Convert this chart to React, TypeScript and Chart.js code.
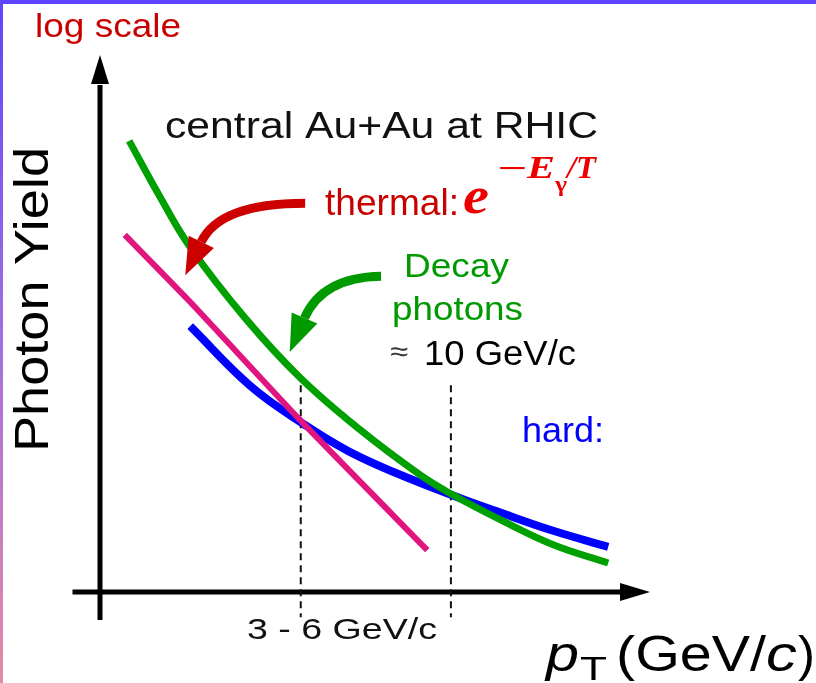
import React, { useEffect, useRef } from "react";
import { Chart, registerables } from "chart.js";

Chart.register(...registerables);

// Schematic direct-photon spectra, arbitrary units: x = pT, y = log(yield)
const decayPt = [0.53, 1.09, 1.64, 2.64, 3.64, 4.73, 5.82, 6.36, 7.33, 8.24, 9.24];
const decayLogYield = [8.4, 7.36, 6.42, 5.1, 3.99, 3.02, 2.18, 1.84, 1.32, 0.88, 0.54];
const hardPt = [1.64, 2.73, 3.64, 4.73, 6.36, 7.33, 8.24, 9.24];
const hardLogYield = [4.95, 3.84, 3.17, 2.51, 1.82, 1.46, 1.14, 0.84];
const thermalPt = [0.45, 1.64, 3.64, 5.95];
const thermalLogYield = [6.65, 5.4, 3.2, 0.78];

// Vertical markers: thermal/hard crossing and decay/hard crossing
const markerPt = [3.65, 6.38];
const markerTop = 3.85;
const markerBottom = -0.47;

// Axis extents (arrow tips at the max)
const axisMax = 10;
const xAxisStart = -0.5;
const yAxisStart = -0.52;

// Curved pointer arrows: tail, bend control, tip (data units)
const thermalPointer = { tail: [3.73, 7.24], ctrl: [2.18, 7.24], tip: [1.55, 5.9] };
const decayPointer = { tail: [5.11, 5.88], ctrl: [4.04, 5.86], tip: [3.45, 4.47] };

const SANS = '"Liberation Sans", Arial, Helvetica, sans-serif';
const SERIF = '"Liberation Serif", "Times New Roman", serif';

const toPts = (xs: number[], ys: number[]) => xs.map((x, i) => ({ x, y: ys[i] }));

function fitText(
  ctx: CanvasRenderingContext2D,
  text: string,
  x: number,
  y: number,
  font: string,
  color: string,
  width?: number
) {
  ctx.save();
  ctx.font = font;
  ctx.fillStyle = color;
  ctx.textAlign = "left";
  ctx.textBaseline = "alphabetic";
  const w = ctx.measureText(text).width;
  const sx = width ? width / w : 1;
  ctx.translate(x, y);
  ctx.scale(sx, 1);
  ctx.fillText(text, 0, 0);
  ctx.restore();
}

function solidArrow(
  ctx: CanvasRenderingContext2D,
  tip: [number, number],
  from: [number, number],
  headLen: number,
  headWidth: number
) {
  const dx = tip[0] - from[0];
  const dy = tip[1] - from[1];
  const len = Math.hypot(dx, dy);
  const ux = dx / len;
  const uy = dy / len;
  const bx = tip[0] - ux * headLen;
  const by = tip[1] - uy * headLen;
  const px = -uy * (headWidth / 2);
  const py = ux * (headWidth / 2);
  ctx.beginPath();
  ctx.moveTo(tip[0], tip[1]);
  ctx.lineTo(bx + px, by + py);
  ctx.lineTo(bx - px, by - py);
  ctx.closePath();
  ctx.fill();
  return [bx, by] as [number, number];
}

const framePlugin = {
  id: "frame",
  beforeDraw(chart: any) {
    const { ctx, width, height } = chart;
    ctx.save();
    ctx.fillStyle = "#ffffff";
    ctx.fillRect(0, 0, width, height);
    const g = ctx.createLinearGradient(0, 0, 0, height);
    g.addColorStop(0, "#5f44ff");
    g.addColorStop(0.5, "#a36fe0");
    g.addColorStop(1, "#e58aa6");
    ctx.fillStyle = g;
    ctx.fillRect(0, 0, 3, height);
    ctx.fillStyle = "#5f44ff";
    ctx.fillRect(0, 0, width, 4);
    ctx.restore();
  },
  beforeDatasetsDraw(chart: any) {
    const { ctx } = chart;
    const xs = chart.scales.x;
    const ys = chart.scales.y;
    const x0 = xs.getPixelForValue(0);
    const y0 = ys.getPixelForValue(0);
    ctx.save();
    ctx.strokeStyle = "#000";
    ctx.fillStyle = "#000";
    ctx.lineWidth = 5;
    // vertical axis
    const yTip: [number, number] = [x0, ys.getPixelForValue(axisMax)];
    const yBase = solidArrow(ctx, yTip, [x0, ys.getPixelForValue(yAxisStart)], 29, 18);
    ctx.beginPath();
    ctx.moveTo(x0, ys.getPixelForValue(yAxisStart));
    ctx.lineTo(x0, yBase[1] + 1);
    ctx.stroke();
    // horizontal axis
    const xTip: [number, number] = [xs.getPixelForValue(axisMax), y0];
    const xBase = solidArrow(ctx, xTip, [xs.getPixelForValue(xAxisStart), y0], 30, 18);
    ctx.beginPath();
    ctx.moveTo(xs.getPixelForValue(xAxisStart), y0);
    ctx.lineTo(xBase[0] + 1, y0);
    ctx.stroke();
    ctx.restore();
  },
  afterDatasetsDraw(chart: any) {
    const { ctx } = chart;
    const xs = chart.scales.x;
    const ys = chart.scales.y;
    const P = (p: number[]) => [xs.getPixelForValue(p[0]), ys.getPixelForValue(p[1])] as [number, number];
    const pointer = (a: any, color: string) => {
      const tail = P(a.tail);
      const ctrl = P(a.ctrl);
      const tip = P(a.tip);
      ctx.save();
      ctx.fillStyle = color;
      ctx.strokeStyle = color;
      const base = solidArrow(ctx, tip, ctrl, 37, 28);
      ctx.lineWidth = 9;
      ctx.lineCap = "butt";
      ctx.beginPath();
      ctx.moveTo(tail[0], tail[1]);
      ctx.quadraticCurveTo(ctrl[0], ctrl[1], base[0], base[1]);
      ctx.stroke();
      ctx.restore();
    };
    pointer(thermalPointer, "#cc0000");
    pointer(decayPointer, "#009a00");
  },
  afterDraw(chart: any) {
    const { ctx } = chart;
    fitText(ctx, "log scale", 35, 37, `33px ${SANS}`, "#c80000", 146);
    fitText(ctx, "central Au+Au at RHIC", 165, 138, `36px ${SANS}`, "#111", 433);

    fitText(ctx, "thermal:", 325, 215, `36px ${SANS}`, "#c80000", 134);
    fitText(ctx, "e", 463, 213, `italic bold 52px ${SERIF}`, "#ee0000", 26);
    fitText(ctx, "\u2212", 497, 178, `bold 30px ${SERIF}`, "#ee0000", 30);
    fitText(ctx, "E", 527, 178, `italic bold 31px ${SERIF}`, "#ee0000", 28);
    fitText(ctx, "\u03b3", 555, 191, `bold 21px ${SERIF}`, "#ee0000", 12);
    fitText(ctx, "/T", 567, 178, `italic bold 31px ${SERIF}`, "#ee0000", 29);

    fitText(ctx, "Decay", 404, 277, `34px ${SANS}`, "#009a00", 105);
    fitText(ctx, "photons", 392, 320, `34px ${SANS}`, "#009a00", 131);

    fitText(ctx, "\u2248", 390, 361, `28px ${SANS}`, "#333", 18);
    fitText(ctx, "10 GeV/c", 424, 365, `35px ${SANS}`, "#000", 152);

    fitText(ctx, "hard:", 522, 442, `35px ${SANS}`, "#0000ff", 82);

    fitText(ctx, "3 - 6 GeV/c", 247, 639, `30px ${SANS}`, "#111", 190);

    fitText(ctx, "p", 546, 671, `italic 50px ${SANS}`, "#000", 33);
    fitText(ctx, "T", 580, 680, `34px ${SANS}`, "#000", 27);
    fitText(ctx, "(GeV/", 616, 671, `50px ${SANS}`, "#000", 150);
    fitText(ctx, "c", 766, 671, `italic 50px ${SANS}`, "#000", 31);
    fitText(ctx, ")", 798, 671, `50px ${SANS}`, "#000", 17);

    ctx.save();
    ctx.translate(48, 452);
    ctx.rotate(-Math.PI / 2);
    fitText(ctx, "Photon Yield", 0, 0, `49px ${SANS}`, "#000", 305);
    ctx.restore();
  },
};

export default function App() {
  const canvasRef = useRef<HTMLCanvasElement | null>(null);

  useEffect(() => {
    document.body.style.margin = "0";
    const canvas = canvasRef.current;
    if (!canvas) return;

    const markerSet = (x: number) => ({
      label: "marker",
      data: [
        { x, y: markerTop },
        { x, y: markerBottom },
      ],
      borderColor: "#111",
      borderWidth: 2,
      borderDash: [7, 5],
      pointRadius: 0,
      tension: 0,
      clip: false as any,
    });

    const curve = (label: string, data: any[], color: string, width: number, tension: number) => ({
      label,
      data,
      borderColor: color,
      borderWidth: width,
      pointRadius: 0,
      tension,
      borderCapStyle: "butt" as const,
    });

    const chart = new Chart(canvas, {
      type: "line",
      data: {
        datasets: [
          curve("thermal", toPts(thermalPt, thermalLogYield), "#e0157f", 6, 0.2),
          curve("decay", toPts(decayPt, decayLogYield), "#00a000", 7, 0.4),
          curve("hard", toPts(hardPt, hardLogYield), "#0000ff", 8, 0.4),
          markerSet(markerPt[0]),
          markerSet(markerPt[1]),
        ],
      },
      options: {
        responsive: false,
        animation: false,
        devicePixelRatio: 1,
        layout: { padding: { left: 100, right: 166, top: 55, bottom: 91 } },
        scales: {
          x: { type: "linear", min: 0, max: axisMax, display: false },
          y: { type: "linear", min: 0, max: axisMax, display: false },
        },
        plugins: {
          legend: { display: false },
          tooltip: { enabled: false },
        },
        events: [],
      },
      plugins: [framePlugin],
    });

    return () => chart.destroy();
  }, []);

  return (
    <div style={{ width: 816, height: 683 }}>
      <canvas ref={canvasRef} width={816} height={683} style={{ display: "block" }} />
    </div>
  );
}
